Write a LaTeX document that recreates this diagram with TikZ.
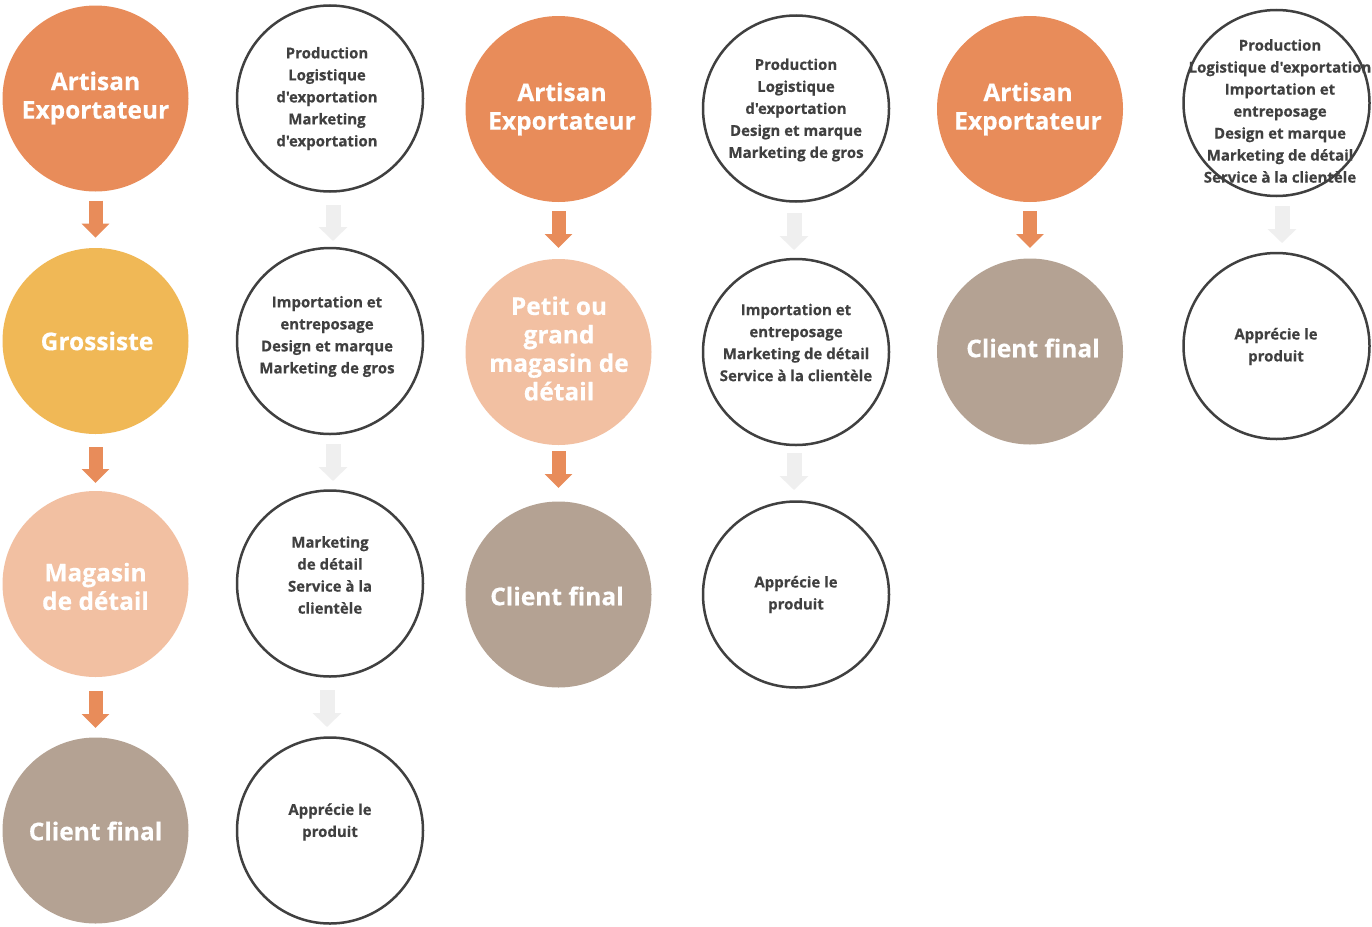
\documentclass[tikz,border=0pt]{standalone}
\usepackage{fontspec}
\newfontfamily\osans{Open Sans}[BoldFeatures={FakeBold=0.4}]
\usetikzlibrary{arrows.meta,calc}
\definecolor{corange}{HTML}{E88C5A}
\definecolor{cyellow}{HTML}{F0B856}
\definecolor{cpeach}{HTML}{F2C0A2}
\definecolor{ctaupe}{HTML}{B4A293}
\definecolor{cgrayarr}{HTML}{EFEFEF}
\definecolor{cdark}{HTML}{404040}
\tikzset{
  disc/.style={circle, minimum size=186pt, inner sep=0pt, outer sep=0pt},
  ring/.style={circle, minimum size=186pt, inner sep=0pt, outer sep=0pt, draw=cdark, line width=2.5pt, fill=white},
  bigtxt/.style={align=center, text=white, inner sep=0pt, font=\osans\bfseries\fontsize{24.5}{28.5}\selectfont},
  smalltxt/.style={align=center, text=cdark, inner sep=0pt, font=\osans\bfseries\fontsize{15}{22}\selectfont},
  oarr/.style={draw=corange, line width=14pt, -{Triangle[length=14pt,width=27pt]}},
  garr/.style={draw=cgrayarr, line width=15pt, -{Triangle[length=14pt,width=28pt]}}
}
\begin{document}
\begin{tikzpicture}[x=1pt,y=-1pt]
\useasboundingbox (0,0) rectangle (1372,926);
\fill[white] (0,0) rectangle (1372,926);
% column 1
\node[disc,fill=corange] (A1) at (95.5,98.5) {};
\node[bigtxt] (tA1) at (95.5,98) {Artisan\\Exportateur};
\node[disc,fill=cyellow] (G1) at (95.5,341) {};
\node[bigtxt] (tG1) at (97,341) {Grossiste};
\node[disc,fill=cpeach] (M1) at (95.5,584) {};
\node[bigtxt] (tM1) at (95.5,586.5) {Magasin\\de détail};
\node[disc,fill=ctaupe] (C1) at (95.5,830.5) {};
\node[bigtxt] (tC1) at (95.5,831) {Client final};
% column 2
\node[ring] (P2a) at (330,98.5) {};
\node[smalltxt] (tP2a) at (327,98.5) {Production\\Logistique\\d'exportation\\Marketing\\d'exportation};
\node[ring] (P2b) at (330,341) {};
\node[smalltxt] (tP2b) at (327,336.5) {Importation et\\entreposage\\Design et marque\\Marketing de gros};
\node[ring] (P2c) at (330,583.5) {};
\node[smalltxt] (tP2c) at (330,575) {Marketing\\de détail\\Service à la\\clientèle};
\node[ring] (P2d) at (330,830.5) {};
\node[smalltxt] (tP2d) at (330,822) {Apprécie le\\produit};
% column 3
\node[disc,fill=corange] (A3) at (558.5,109) {};
\node[bigtxt] (tA3) at (562,109) {Artisan\\Exportateur};
\node[disc,fill=cpeach] (R3) at (558.5,352) {};
\node[bigtxt] (tR3) at (559,348.5) {Petit ou\\grand\\magasin de\\détail};
\node[disc,fill=ctaupe] (C3) at (558.5,594.5) {};
\node[bigtxt] (tC3) at (557,596) {Client final};
% column 4
\node[ring] (P4a) at (796,108.5) {};
\node[smalltxt] (tP4a) at (796,110) {Production\\Logistique\\d'exportation\\Design et marque\\Marketing de gros};
\node[ring] (P4b) at (796,352) {};
\node[smalltxt] (tP4b) at (796,342.5) {Importation et\\entreposage\\Marketing de détail\\Service à la clientèle};
\node[ring] (P4c) at (796,594.5) {};
\node[smalltxt] (tP4c) at (796,594.5) {Apprécie le\\produit};
% column 5
\node[disc,fill=corange] (A5) at (1030,109) {};
\node[bigtxt] (tA5) at (1028,109) {Artisan\\Exportateur};
\node[disc,fill=ctaupe] (C5) at (1030,351.5) {};
\node[bigtxt] (tC5) at (1033,348) {Client final};
% column 6
\node[ring] (P6a) at (1276.5,103) {};
\node[smalltxt] (tP6a) at (1280,111) {Production\\Logistique d'exportation\\Importation et\\entreposage\\Design et marque\\Marketing de détail\\Service à la clientèle};
\node[ring] (P6b) at (1276.5,346) {};
\node[smalltxt] (tP6b) at (1276,346.5) {Apprécie le\\produit};
% arrows column 1
\draw[oarr] ($(A1.south)+(0,9.2)$) -- ($(G1.north)+(0,-10.3)$);
\draw[oarr] ($(G1.south)+(0,13)$) -- ($(M1.north)+(0,-8)$);
\draw[oarr] ($(M1.south)+(0,14)$) -- ($(C1.north)+(0,-9.5)$);
% arrows column 2
\draw[garr] ($(P2a.south)+(3,13.5)$) -- ($(P2b.north)+(3,-7)$);
\draw[garr] ($(P2b.south)+(3,10)$) -- ($(P2c.north)+(3,-9.5)$);
\draw[garr] ($(P2c.south)+(-3,13.5)$) -- ($(P2d.north)+(-3,-10.5)$);
% arrows column 3
\draw[oarr] ($(A3.south)+(0,9)$) -- ($(R3.north)+(0,-11)$);
\draw[oarr] ($(R3.south)+(0,6)$) -- ($(C3.north)+(0,-13.5)$);
% arrows column 4
\draw[garr] ($(P4a.south)+(-2,11.5)$) -- ($(P4b.north)+(-2,-9)$);
\draw[garr] ($(P4b.south)+(-2,8)$) -- ($(P4c.north)+(-2,-11.5)$);
% arrow column 5
\draw[oarr] ($(A5.south)+(0,9)$) -- ($(C5.north)+(0,-10.5)$);
% arrow column 6
\draw[garr] ($(P6a.south)+(5.5,10)$) -- ($(P6b.north)+(5.5,-10)$);
\end{tikzpicture}
\end{document}
